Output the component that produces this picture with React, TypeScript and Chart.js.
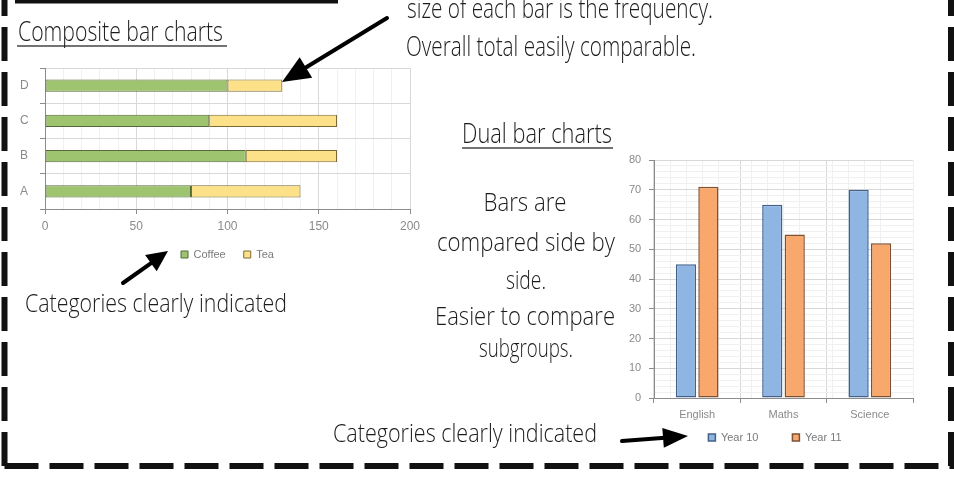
import React, { useEffect, useRef } from "react";
import { Chart, registerables } from "chart.js";

Chart.register(...registerables);

// ---------- data ----------
const compositeCategories = ["A", "B", "C", "D"];
const coffeeValues = [80, 110, 90, 100];
const teaValues = [60, 50, 70, 30];
const compositeTickLabels = [0, 50, 100, 150, 200];

const subjects = ["English", "Maths", "Science"];
const year10Values = [45, 65, 70];
const year11Values = [71, 55, 52];
const dualTickLabels = [0, 10, 20, 30, 40, 50, 60, 70, 80];

const AXIS_FONT = { family: "'Liberation Sans', Arial, sans-serif", size: 11 };
const COMP_AXIS_FONT = { family: "'Liberation Sans', Arial, sans-serif", size: 12 };
const LEGEND_FONT = { family: "'Liberation Sans', Arial, sans-serif", size: 11 };
const TICK_COLOR = "#8a8a8a";
const AXIS_COLOR = "#8c8c8c";
const MAJOR_GRID = "#d8d8d8";
const MINOR_GRID = "#f0f0f0";

const HAND = "'Open Sans', 'DejaVu Sans', sans-serif";

type Note = { t: string; x: number; y: number; w: number; s: number; anchor?: "start" | "middle" };

const notes: Note[] = [
  { t: "size of each bar is the frequency.", x: 407, y: 18, w: 306, s: 27 },
  { t: "Overall total easily comparable.", x: 406, y: 56, w: 290, s: 27 },
  { t: "Composite bar charts", x: 18, y: 41, w: 205, s: 28 },
  { t: "Dual bar charts", x: 462, y: 143, w: 150, s: 28 },
  { t: "Bars are", x: 525, y: 211, w: 83, s: 25, anchor: "middle" },
  { t: "compared side by", x: 526, y: 251, w: 178, s: 25, anchor: "middle" },
  { t: "side.", x: 526, y: 289, w: 40, s: 25, anchor: "middle" },
  { t: "Easier to compare", x: 525, y: 325, w: 180, s: 25, anchor: "middle" },
  { t: "subgroups.", x: 526, y: 357, w: 94, s: 25, anchor: "middle" },
  { t: "Categories clearly indicated", x: 25, y: 312, w: 262, s: 26 },
  { t: "Categories clearly indicated", x: 333, y: 442, w: 264, s: 26 },
];

type Arrow = { x1: number; y1: number; x2: number; y2: number; head: number; half: number };
const arrows: Arrow[] = [
  { x1: 387, y1: 18, x2: 282, y2: 82, head: 28, half: 12 },
  { x1: 123, y1: 283, x2: 168, y2: 251, head: 21, half: 10 },
  { x1: 622, y1: 441, x2: 688, y2: 436, head: 25, half: 10 },
];

function arrowParts(a: Arrow) {
  const dx = a.x2 - a.x1;
  const dy = a.y2 - a.y1;
  const len = Math.hypot(dx, dy);
  const ux = dx / len;
  const uy = dy / len;
  const bx = a.x2 - ux * a.head;
  const by = a.y2 - uy * a.head;
  const px = -uy * a.half;
  const py = ux * a.half;
  return {
    line: { x1: a.x1, y1: a.y1, x2: bx + ux * 2, y2: by + uy * 2 },
    poly: `${a.x2},${a.y2} ${bx + px},${by + py} ${bx - px},${by - py}`,
  };
}

const isInt = (v: number) => Math.abs(v - Math.round(v)) < 1e-6;

export default function App() {
  const compRef = useRef<HTMLCanvasElement>(null);
  const dualRef = useRef<HTMLCanvasElement>(null);

  useEffect(() => {
    const comp = new Chart(compRef.current as HTMLCanvasElement, {
      type: "bar",
      data: {
        labels: compositeCategories,
        datasets: [
          {
            label: "Coffee",
            data: coffeeValues,
            backgroundColor: "#9ec46f",
            borderColor: "#56683a",
            borderWidth: 1,
            borderSkipped: false,
            categoryPercentage: 0.36,
            barPercentage: 0.95,
          },
          {
            label: "Tea",
            data: teaValues,
            backgroundColor: "#fde189",
            borderColor: "#7a6a36",
            borderWidth: 1,
            borderSkipped: false,
            categoryPercentage: 0.36,
            barPercentage: 0.95,
          },
        ],
      },
      options: {
        indexAxis: "y",
        animation: false,
        responsive: false,
        events: [],
        layout: { padding: { top: 68, left: 45, right: 30, bottom: 0 } },
        plugins: {
          legend: {
            position: "bottom",
            labels: { boxWidth: 7, boxHeight: 7, padding: 18, color: "#7a7a7a", font: LEGEND_FONT },
          },
          tooltip: { enabled: false },
        },
        scales: {
          x: {
            stacked: true,
            min: compositeTickLabels[0],
            max: compositeTickLabels[compositeTickLabels.length - 1],
            afterFit: (s: any) => {
              s.height = 22;
            },
            ticks: {
              stepSize: 10,
              autoSkip: false,
              maxRotation: 0,
              mirror: true,
              padding: -25.2,
              color: TICK_COLOR,
              font: COMP_AXIS_FONT,
              callback: (v: any) => (compositeTickLabels.includes(Number(v)) ? String(v) : ""),
            },
            grid: {
              color: (c: any) => (c.tick && compositeTickLabels.includes(c.tick.value) ? MAJOR_GRID : MINOR_GRID),
              tickColor: (c: any) =>
                c.tick && compositeTickLabels.includes(c.tick.value) ? AXIS_COLOR : "rgba(0,0,0,0)",
              tickLength: 5,
            },
            border: { color: AXIS_COLOR, width: 1 },
          },
          y: {
            stacked: true,
            reverse: true,
            afterFit: (s: any) => {
              s.width = 0;
            },
            ticks: { color: TICK_COLOR, font: COMP_AXIS_FONT, mirror: true, crossAlign: "near", padding: -25 },
            grid: { offset: true, color: MAJOR_GRID, tickColor: AXIS_COLOR, tickLength: 5 },
            border: { color: AXIS_COLOR, width: 1 },
          },
        },
      },
    } as any);

    const dual = new Chart(dualRef.current as HTMLCanvasElement, {
      type: "bar",
      data: {
        labels: subjects,
        datasets: [
          {
            label: "Year 10",
            data: year10Values,
            backgroundColor: "#8fb6e3",
            borderColor: "#44618a",
            borderWidth: 1.5,
            borderSkipped: false,
            categoryPercentage: 0.52,
            barPercentage: 0.9,
          },
          {
            label: "Year 11",
            data: year11Values,
            backgroundColor: "#f9a86d",
            borderColor: "#7d5234",
            borderWidth: 1.5,
            borderSkipped: false,
            categoryPercentage: 0.52,
            barPercentage: 0.9,
          },
        ],
      },
      options: {
        animation: false,
        responsive: false,
        events: [],
        layout: { padding: { top: 20, left: 37, right: 7, bottom: 0 } },
        plugins: {
          legend: {
            position: "bottom",
            labels: { boxWidth: 7, boxHeight: 7, padding: 34, color: "#7a7a7a", font: LEGEND_FONT },
          },
          tooltip: { enabled: false },
        },
        scales: {
          x: {
            afterFit: (s: any) => {
              s.height = 0;
            },
            ticks: { color: TICK_COLOR, font: AXIS_FONT, mirror: true, padding: -23.6, maxRotation: 0 },
            grid: { offset: true, color: MAJOR_GRID, tickColor: AXIS_COLOR, tickLength: 5 },
            border: { color: AXIS_COLOR, width: 1 },
          },
          xm: {
            type: "linear",
            position: "bottom",
            min: 0,
            max: subjects.length,
            afterFit: (s: any) => {
              s.height = 0;
            },
            ticks: { display: false, stepSize: 0.2, autoSkip: false },
            grid: {
              color: (c: any) => (c.tick && isInt(c.tick.value) ? "rgba(0,0,0,0)" : MINOR_GRID),
              drawTicks: false,
            },
            border: { display: false },
          },
          y: {
            min: dualTickLabels[0],
            max: dualTickLabels[dualTickLabels.length - 1],
            afterFit: (s: any) => {
              s.width = 17;
            },
            ticks: {
              stepSize: 2,
              autoSkip: false,
              mirror: true,
              crossAlign: "far",
              padding: -25,
              color: TICK_COLOR,
              font: AXIS_FONT,
              callback: (v: any) => (dualTickLabels.includes(Number(v)) ? String(v) : ""),
            },
            grid: {
              color: (c: any) => (c.tick && dualTickLabels.includes(c.tick.value) ? MAJOR_GRID : MINOR_GRID),
              tickColor: (c: any) =>
                c.tick && dualTickLabels.includes(c.tick.value) ? AXIS_COLOR : "rgba(0,0,0,0)",
              tickLength: 5,
            },
            border: { color: AXIS_COLOR, width: 1 },
          },
        },
      },
    } as any);

    return () => {
      comp.destroy();
      dual.destroy();
    };
  }, []);

  return (
    <div
      style={{
        position: "absolute",
        left: 0,
        top: 0,
        width: 954,
        height: 479,
        background: "#ffffff",
        overflow: "hidden",
      }}
    >
      <canvas ref={compRef} width={440} height={270} style={{ position: "absolute", left: 0, top: 0 }} />
      <canvas ref={dualRef} width={320} height={313} style={{ position: "absolute", left: 600, top: 140 }} />
      <svg
        width={954}
        height={479}
        style={{ position: "absolute", left: 0, top: 0, pointerEvents: "none" }}
      >
        {/* frame */}
        <rect x={15} y={0} width={323} height={3.5} fill="#111" />
        <g stroke="#111" strokeWidth={6} fill="none" strokeDasharray="34 11">
          <path d="M4.5,466 L4.5,0" />
          <path d="M4.5,466 L954,466" />
          <path d="M951,466 L951,0" />
        </g>
        {/* underlines */}
        <line x1={17} y1={46} x2={227} y2={46} stroke="#444" strokeWidth={1.4} />
        <line x1={462} y1={148} x2={613} y2={148} stroke="#444" strokeWidth={1.4} />
        {/* notes */}
        {notes.map((n, i) => (
          <text
            key={i}
            x={n.x}
            y={n.y}
            fontFamily={HAND}
            fontWeight={300}
            fontSize={n.s}
            fill="#1c1c1c"
            textAnchor={n.anchor || "start"}
            textLength={n.w}
            lengthAdjust="spacingAndGlyphs"
          >
            {n.t}
          </text>
        ))}
        {/* arrows */}
        {arrows.map((a, i) => {
          const p = arrowParts(a);
          return (
            <g key={i}>
              <line {...p.line} stroke="#000" strokeWidth={4} strokeLinecap="round" />
              <polygon points={p.poly} fill="#000" />
            </g>
          );
        })}
      </svg>
    </div>
  );
}
